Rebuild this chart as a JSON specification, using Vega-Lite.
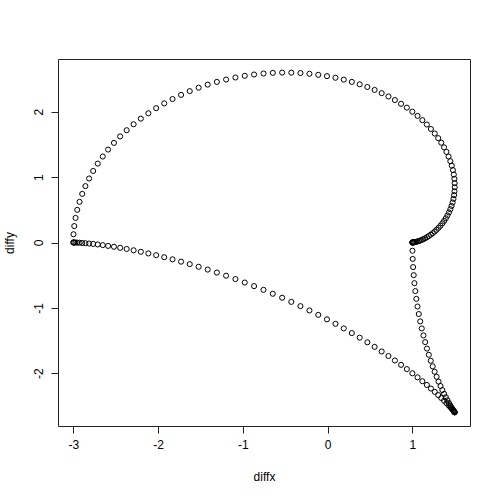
{
"$schema": "https://vega.github.io/schema/vega-lite/v6.json",
"width": 412, "height": 367,
"autosize": {"type": "none"},
"padding": {"left": 58, "top": 59, "right": 30, "bottom": 73},
"background": "white",
"config": {"view": {"stroke": "#222", "strokeWidth": 1}, "font": "Liberation Sans"},
"data": {"values": [
{"diffx":1.000,"diffy":0.000},{"diffx":1.001,"diffy":0.000},{"diffx":1.004,"diffy":0.000},{"diffx":1.009,"diffy":0.001},{"diffx":1.016,"diffy":0.002},{"diffx":1.024,"diffy":0.004},{"diffx":1.035,"diffy":0.007},{"diffx":1.047,"diffy":0.011},{"diffx":1.061,"diffy":0.016},{"diffx":1.076,"diffy":0.022},
{"diffx":1.093,"diffy":0.030},{"diffx":1.111,"diffy":0.040},{"diffx":1.131,"diffy":0.052},{"diffx":1.151,"diffy":0.065},{"diffx":1.172,"diffy":0.081},{"diffx":1.194,"diffy":0.099},{"diffx":1.217,"diffy":0.119},{"diffx":1.240,"diffy":0.142},{"diffx":1.263,"diffy":0.167},{"diffx":1.286,"diffy":0.194},
{"diffx":1.309,"diffy":0.225},{"diffx":1.332,"diffy":0.257},{"diffx":1.354,"diffy":0.293},{"diffx":1.375,"diffy":0.331},{"diffx":1.395,"diffy":0.371},{"diffx":1.414,"diffy":0.414},{"diffx":1.432,"diffy":0.460},{"diffx":1.448,"diffy":0.508},{"diffx":1.462,"diffy":0.559},{"diffx":1.475,"diffy":0.612},
{"diffx":1.485,"diffy":0.667},{"diffx":1.492,"diffy":0.724},{"diffx":1.497,"diffy":0.784},{"diffx":1.500,"diffy":0.845},{"diffx":1.499,"diffy":0.908},{"diffx":1.496,"diffy":0.973},{"diffx":1.489,"diffy":1.039},{"diffx":1.479,"diffy":1.107},{"diffx":1.465,"diffy":1.175},{"diffx":1.448,"diffy":1.244},
{"diffx":1.427,"diffy":1.314},{"diffx":1.402,"diffy":1.385},{"diffx":1.374,"diffy":1.455},{"diffx":1.341,"diffy":1.526},{"diffx":1.305,"diffy":1.596},{"diffx":1.264,"diffy":1.666},{"diffx":1.219,"diffy":1.736},{"diffx":1.171,"diffy":1.804},{"diffx":1.118,"diffy":1.871},{"diffx":1.061,"diffy":1.936},
{"diffx":1.000,"diffy":2.000},{"diffx":0.935,"diffy":2.062},{"diffx":0.867,"diffy":2.121},{"diffx":0.794,"diffy":2.178},{"diffx":0.718,"diffy":2.233},{"diffx":0.638,"diffy":2.284},{"diffx":0.555,"diffy":2.333},{"diffx":0.469,"diffy":2.378},{"diffx":0.379,"diffy":2.419},{"diffx":0.286,"diffy":2.456},
{"diffx":0.191,"diffy":2.490},{"diffx":0.093,"diffy":2.519},{"diffx":-0.007,"diffy":2.544},{"diffx":-0.110,"diffy":2.564},{"diffx":-0.214,"diffy":2.580},{"diffx":-0.320,"diffy":2.591},{"diffx":-0.428,"diffy":2.597},{"diffx":-0.536,"diffy":2.598},{"diffx":-0.646,"diffy":2.594},{"diffx":-0.756,"diffy":2.584},
{"diffx":-0.867,"diffy":2.569},{"diffx":-0.977,"diffy":2.549},{"diffx":-1.087,"diffy":2.523},{"diffx":-1.197,"diffy":2.492},{"diffx":-1.306,"diffy":2.456},{"diffx":-1.414,"diffy":2.414},{"diffx":-1.521,"diffy":2.367},{"diffx":-1.626,"diffy":2.315},{"diffx":-1.728,"diffy":2.257},{"diffx":-1.829,"diffy":2.194},
{"diffx":-1.927,"diffy":2.127},{"diffx":-2.022,"diffy":2.054},{"diffx":-2.114,"diffy":1.976},{"diffx":-2.203,"diffy":1.894},{"diffx":-2.288,"diffy":1.808},{"diffx":-2.370,"diffy":1.717},{"diffx":-2.447,"diffy":1.622},{"diffx":-2.520,"diffy":1.523},{"diffx":-2.589,"diffy":1.421},{"diffx":-2.652,"diffy":1.315},
{"diffx":-2.711,"diffy":1.206},{"diffx":-2.765,"diffy":1.094},{"diffx":-2.813,"diffy":0.979},{"diffx":-2.857,"diffy":0.862},{"diffx":-2.894,"diffy":0.743},{"diffx":-2.926,"diffy":0.622},{"diffx":-2.953,"diffy":0.499},{"diffx":-2.973,"diffy":0.376},{"diffx":-2.988,"diffy":0.251},{"diffx":-2.997,"diffy":0.126},
{"diffx":-3.000,"diffy":0.000},
{"diffx":-2.997,"diffy":0.000},{"diffx":-2.988,"diffy":0.000},{"diffx":-2.973,"diffy":-0.001},{"diffx":-2.953,"diffy":-0.002},{"diffx":-2.926,"diffy":-0.004},{"diffx":-2.894,"diffy":-0.007},{"diffx":-2.857,"diffy":-0.011},{"diffx":-2.813,"diffy":-0.016},{"diffx":-2.765,"diffy":-0.022},{"diffx":-2.711,"diffy":-0.030},
{"diffx":-2.652,"diffy":-0.040},{"diffx":-2.589,"diffy":-0.052},{"diffx":-2.520,"diffy":-0.065},{"diffx":-2.447,"diffy":-0.081},{"diffx":-2.370,"diffy":-0.099},{"diffx":-2.288,"diffy":-0.119},{"diffx":-2.203,"diffy":-0.142},{"diffx":-2.114,"diffy":-0.167},{"diffx":-2.022,"diffy":-0.194},{"diffx":-1.927,"diffy":-0.225},
{"diffx":-1.829,"diffy":-0.257},{"diffx":-1.728,"diffy":-0.293},{"diffx":-1.626,"diffy":-0.331},{"diffx":-1.521,"diffy":-0.371},{"diffx":-1.414,"diffy":-0.414},{"diffx":-1.306,"diffy":-0.460},{"diffx":-1.197,"diffy":-0.508},{"diffx":-1.087,"diffy":-0.559},{"diffx":-0.977,"diffy":-0.612},{"diffx":-0.867,"diffy":-0.667},
{"diffx":-0.756,"diffy":-0.724},{"diffx":-0.646,"diffy":-0.784},{"diffx":-0.536,"diffy":-0.845},{"diffx":-0.428,"diffy":-0.908},{"diffx":-0.320,"diffy":-0.973},{"diffx":-0.214,"diffy":-1.039},{"diffx":-0.110,"diffy":-1.107},{"diffx":-0.007,"diffy":-1.175},{"diffx":0.093,"diffy":-1.244},{"diffx":0.191,"diffy":-1.314},
{"diffx":0.286,"diffy":-1.385},{"diffx":0.379,"diffy":-1.455},{"diffx":0.469,"diffy":-1.526},{"diffx":0.555,"diffy":-1.596},{"diffx":0.638,"diffy":-1.666},{"diffx":0.718,"diffy":-1.736},{"diffx":0.794,"diffy":-1.804},{"diffx":0.867,"diffy":-1.871},{"diffx":0.935,"diffy":-1.936},{"diffx":1.000,"diffy":-2.000},
{"diffx":1.061,"diffy":-2.062},{"diffx":1.118,"diffy":-2.121},{"diffx":1.171,"diffy":-2.178},{"diffx":1.219,"diffy":-2.233},{"diffx":1.264,"diffy":-2.284},{"diffx":1.305,"diffy":-2.333},{"diffx":1.341,"diffy":-2.378},{"diffx":1.374,"diffy":-2.419},{"diffx":1.402,"diffy":-2.456},{"diffx":1.427,"diffy":-2.490},
{"diffx":1.448,"diffy":-2.519},{"diffx":1.465,"diffy":-2.544},{"diffx":1.479,"diffy":-2.564},{"diffx":1.489,"diffy":-2.580},{"diffx":1.496,"diffy":-2.591},{"diffx":1.499,"diffy":-2.597},{"diffx":1.500,"diffy":-2.598},{"diffx":1.497,"diffy":-2.594},{"diffx":1.492,"diffy":-2.584},{"diffx":1.485,"diffy":-2.569},
{"diffx":1.475,"diffy":-2.549},{"diffx":1.462,"diffy":-2.523},{"diffx":1.448,"diffy":-2.492},{"diffx":1.432,"diffy":-2.456},{"diffx":1.414,"diffy":-2.414},{"diffx":1.395,"diffy":-2.367},{"diffx":1.375,"diffy":-2.315},{"diffx":1.354,"diffy":-2.257},{"diffx":1.332,"diffy":-2.194},{"diffx":1.309,"diffy":-2.127},
{"diffx":1.286,"diffy":-2.054},{"diffx":1.263,"diffy":-1.976},{"diffx":1.240,"diffy":-1.894},{"diffx":1.217,"diffy":-1.808},{"diffx":1.194,"diffy":-1.717},{"diffx":1.172,"diffy":-1.622},{"diffx":1.151,"diffy":-1.523},{"diffx":1.131,"diffy":-1.421},{"diffx":1.111,"diffy":-1.315},{"diffx":1.093,"diffy":-1.206},
{"diffx":1.076,"diffy":-1.094},{"diffx":1.061,"diffy":-0.979},{"diffx":1.047,"diffy":-0.862},{"diffx":1.035,"diffy":-0.743},{"diffx":1.024,"diffy":-0.622},{"diffx":1.016,"diffy":-0.499},{"diffx":1.009,"diffy":-0.376},{"diffx":1.004,"diffy":-0.251},{"diffx":1.001,"diffy":-0.126},{"diffx":1.000,"diffy":0.000}
]},
"mark": {"type": "point", "shape": "circle", "filled": false, "stroke": "black", "strokeWidth": 1, "size": 26, "opacity": 1},
"encoding": {
"x": {"field": "diffx", "type": "quantitative", "scale": {"domain": [-3.18, 1.68], "nice": false, "zero": false},
 "axis": {"title": "diffx", "values": [-3, -2, -1, 0, 1], "labelExpr": "toString(datum.value)", "grid": false, "domain": false, "tickSize": 7, "tickColor": "#222", "labelPadding": 6, "labelFontSize": 12, "labelColor": "black", "labelFont": "Liberation Sans", "titleFont": "Liberation Sans", "titleFontSize": 12, "titleFontWeight": "normal", "titleColor": "black", "titlePadding": 21}},
"y": {"field": "diffy", "type": "quantitative", "scale": {"domain": [-2.806, 2.806], "nice": false, "zero": false},
 "axis": {"title": "diffy", "values": [-2, -1, 0, 1, 2], "labelExpr": "toString(datum.value)", "grid": false, "domain": false, "tickSize": 7, "tickColor": "#222", "labelAngle": -90, "labelAlign": "center", "labelBaseline": "bottom", "labelPadding": 6, "labelFontSize": 12, "labelColor": "black", "labelFont": "Liberation Sans", "titleFont": "Liberation Sans", "titleFontSize": 12, "titleFontWeight": "normal", "titleColor": "black", "titlePadding": 16}}
}
}
